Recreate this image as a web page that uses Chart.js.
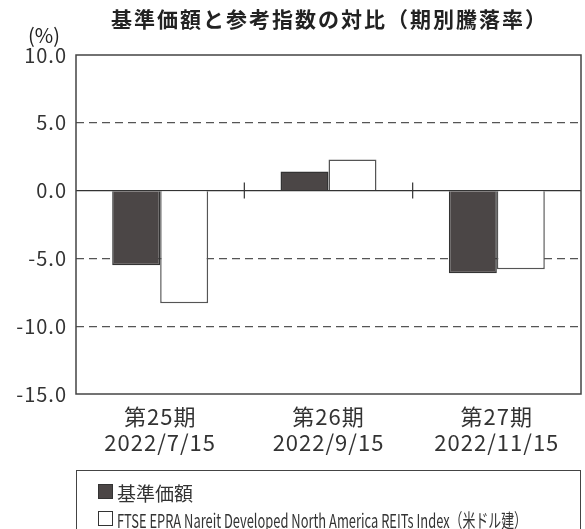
<!DOCTYPE html>
<html>
<head>
<meta charset="utf-8">
<script src="https://cdn.jsdelivr.net/npm/chart.js@4.4.0/dist/chart.umd.min.js"></script>
<style>
  body { margin: 0; background: #fff; font-family: "Noto Sans CJK JP", sans-serif; }
  #wrap { position: relative; width: 585px; height: 529px; overflow: hidden; }
  #legend { position: absolute; left: 76px; top: 470px; width: 505px; height: 80px;
            border: 1px solid #444; box-sizing: border-box; color: #333; font-size: 19px; }
  .item { position: absolute; left: 21px; white-space: nowrap; line-height: 22px; }
  .box { display: inline-block; width: 13px; height: 13px; border: 1px solid #333;
         vertical-align: middle; margin-right: 4px; position: relative; top: -1px; }
  .txt { display: inline-block; transform-origin: left center; vertical-align: middle; }
</style>
</head>
<body>
<div id="wrap">
  <canvas id="chart" width="585" height="529"></canvas>
  <div id="legend"></div>
</div>
<script>
// chart values (period returns, %)
const titleText = "基準価額と参考指数の対比（期別騰落率）";
const unitText = "(%)";
const categories = [["第25期", "2022/7/15"], ["第26期", "2022/9/15"], ["第27期", "2022/11/15"]];
const seriesNames = ["基準価額", "FTSE EPRA Nareit Developed North America REITs Index（米ドル建）"];
const fundValues = [-5.5, 1.4, -6.1];
const indexValues = [-8.3, 2.3, -5.8];
const yMin = -15, yMax = 10, yStep = 5;

const fillColors = ["#4b4646", "#ffffff"];
const edgeColors = ["#333333", "#555555"];

// a bit of letter spacing like the original typeface
const spacing = {
  id: "spacing",
  beforeLayout(chart) { chart.ctx.letterSpacing = "1px"; },
  beforeDraw(chart) { chart.ctx.letterSpacing = "1px"; }
};

// frame, zero-line ticks, title and unit label
const decor = {
  id: "decor",
  afterDraw(chart) {
    const { ctx, chartArea: a, scales: { x, y } } = chart;
    ctx.save();
    ctx.strokeStyle = "#444";
    ctx.lineWidth = 1.5;
    ctx.strokeRect(a.left, a.top, a.right - a.left, a.bottom - a.top);
    const y0 = y.getPixelForValue(0);
    ctx.lineWidth = 1.2;
    ctx.strokeStyle = "#333";
    for (let i = 0; i < categories.length - 1; i++) {
      const bx = (x.getPixelForValue(i) + x.getPixelForValue(i + 1)) / 2;
      ctx.beginPath();
      ctx.moveTo(bx, y0 - 8);
      ctx.lineTo(bx, y0 + 8);
      ctx.stroke();
    }
    ctx.fillStyle = "#222";
    ctx.textAlign = "center";
    ctx.textBaseline = "middle";
    ctx.letterSpacing = "2px";
    ctx.font = 'bold 21px "Noto Sans CJK JP"';
    ctx.fillText(titleText, (a.left + a.right) / 2 + 1, 19);
    ctx.letterSpacing = "0px";
    ctx.font = '20px "Noto Sans CJK JP"';
    ctx.fillText(unitText, 44, 35);
    ctx.restore();
  }
};

new Chart(document.getElementById("chart"), {
  type: "bar",
  data: {
    labels: categories,
    datasets: [
      { label: seriesNames[0], data: fundValues, backgroundColor: fillColors[0],
        borderColor: edgeColors[0], borderWidth: 1.5 },
      { label: seriesNames[1], data: indexValues, backgroundColor: fillColors[1],
        borderColor: edgeColors[1], borderWidth: 1.5 }
    ]
  },
  options: {
    responsive: false,
    animation: false,
    categoryPercentage: 0.57,
    barPercentage: 1,
    layout: { padding: { top: 55, right: 4, left: 0, bottom: 0 } },
    plugins: { legend: { display: false }, tooltip: { enabled: false } },
    scales: {
      x: {
        grid: { display: false },
        border: { display: false },
        ticks: { font: { family: "Noto Sans CJK JP", size: 22, lineHeight: 1.2 }, color: "#333",
                 padding: 1, maxRotation: 0, autoSkip: false },
        afterFit(scale) { scale.height = 135; }
      },
      y: {
        min: yMin, max: yMax,
        grid: {
          drawTicks: false,
          lineWidth: 1.2,
          color: c => {
            if (!c.tick) return "#444";
            if (c.tick.value === yMin || c.tick.value === yMax) return "rgba(0,0,0,0)";
            return c.tick.value === 0 ? "#333" : "#555";
          }
        },
        border: { display: false, dash: c => (c.tick && c.tick.value !== 0) ? [8, 5] : [] },
        ticks: { stepSize: yStep, font: { family: "Noto Sans CJK JP", size: 20 }, color: "#333",
                 padding: 9, callback: v => v.toFixed(1) },
        afterFit(scale) { scale.width = 76; }
      }
    }
  },
  plugins: [spacing, decor]
});

// legend box
const legend = document.getElementById("legend");
seriesNames.forEach((name, i) => {
  const item = document.createElement("div");
  item.className = "item";
  item.style.top = (8 + i * 27) + "px";
  const box = document.createElement("span");
  box.className = "box";
  box.style.background = fillColors[i];
  const txt = document.createElement("span");
  txt.className = "txt";
  txt.textContent = name;
  item.appendChild(box);
  item.appendChild(txt);
  legend.appendChild(item);
  const w = txt.getBoundingClientRect().width;
  if (w > 410) txt.style.transform = "scaleX(" + (410 / w) + ")";
});
</script>
</body>
</html>
